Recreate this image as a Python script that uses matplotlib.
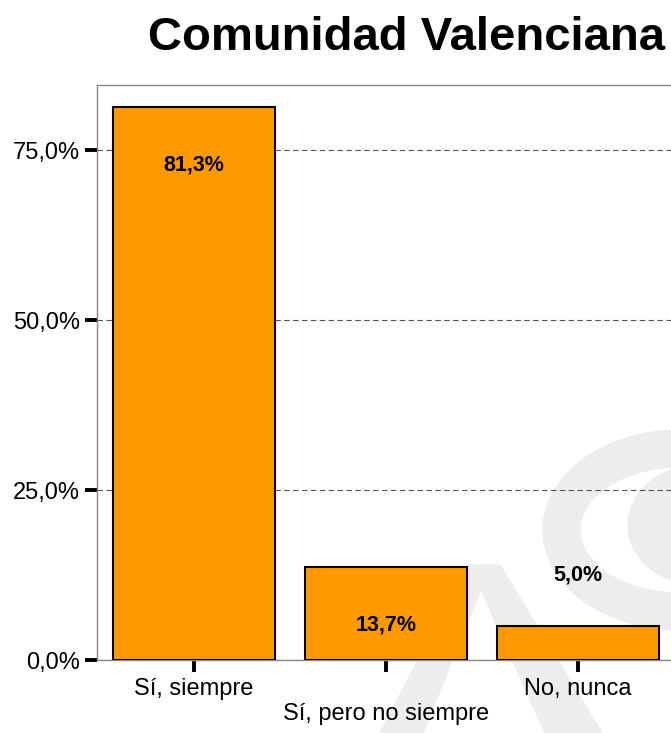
import matplotlib
matplotlib.use("Agg")
import matplotlib.pyplot as plt
from matplotlib.patches import Annulus, Ellipse, Polygon

# data
categories = ["Sí, siempre", "Sí, pero no siempre", "No, nunca"]
values = [81.3, 13.7, 5.0]
value_labels = ["81,3%", "13,7%", "5,0%"]
y_ticks = [0, 25, 50, 75]
y_tick_labels = ["0,0%", "25,0%", "50,0%", "75,0%"]
title = "Comunidad Valenciana"

plt.rcParams["font.family"] = ["Liberation Sans", "DejaVu Sans"]

fig = plt.figure(figsize=(6.71, 7.33), dpi=100)

# faint watermark behind the plot (inches from bottom-left)
wm = "#ededed"
tr = fig.dpi_scale_trans
fig.add_artist(Annulus((6.80, 2.03), (1.37, 1.00), 0.37, color=wm, transform=tr, zorder=-5))
fig.add_artist(Ellipse((7.00, 2.08), 1.44, 1.20, color=wm, transform=tr, zorder=-5))
fig.add_artist(Polygon([(4.67, 1.66), (4.90, 1.66), (4.23, 0.0), (3.80, 0.0)],
                       closed=True, color=wm, transform=tr, zorder=-5))
fig.add_artist(Polygon([(4.70, 1.68), (5.00, 1.68), (6.02, 0.0), (5.45, 0.0)],
                       closed=True, color=wm, transform=tr, zorder=-5))

ax = fig.add_axes([97 / 671, 73 / 733, 578 / 671, 575 / 733])
ax.patch.set_alpha(0)

x = list(range(len(categories)))
ax.bar(x, values, width=0.84, color="#FF9900", edgecolor="black", linewidth=1.5, zorder=3)

for i, v in enumerate(values):
    off = -58 if v >= 10 else 51
    ax.annotate(value_labels[i], (i, v), xytext=(0, off), textcoords="offset pixels",
                ha="center", va="center", fontsize=15.5, fontweight="bold", zorder=4)

ax.set_xlim(-0.505, 2.505)
ax.set_ylim(0, 84.56)

ax.set_yticks(y_ticks)
ax.set_yticklabels(y_tick_labels)
ax.set_xticks(x)
# stagger the middle label one line down
ax.set_xticklabels([c if i % 2 == 0 else "\n" + c for i, c in enumerate(categories)])

ax.yaxis.grid(True, linestyle=(0, (5, 3)), color="#555555", linewidth=0.8)
ax.set_axisbelow(True)

for s in ax.spines.values():
    s.set_color("#888888")
    s.set_linewidth(1.0)

ax.tick_params(axis="both", direction="out", length=8.6, width=2.8, color="black",
               labelsize=17)
ax.tick_params(axis="y", pad=3.5)
ax.tick_params(axis="x", pad=4)

fig.text(148 / 671, 1 - 50 / 733, title, fontsize=34, fontweight="bold",
         ha="left", va="baseline")

fig.savefig("out.png", dpi=100)
